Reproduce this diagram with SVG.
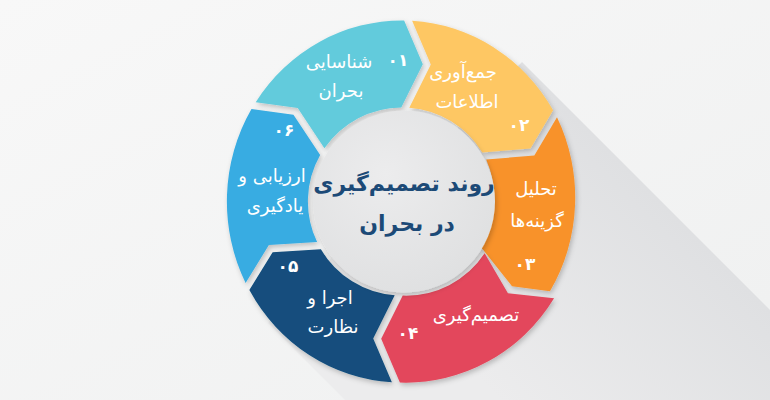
<svg xmlns="http://www.w3.org/2000/svg" width="770" height="400" viewBox="0 0 770 400">
<defs>
<linearGradient id="bg" x1="0" y1="0" x2="1" y2="1">
<stop offset="0" stop-color="#f8f8f8"/>
<stop offset="1" stop-color="#eff0f0"/>
</linearGradient>
<linearGradient id="longShadow" x1="660" y1="200" x2="480" y2="380" gradientUnits="userSpaceOnUse">
<stop offset="0" stop-color="#dfe0e2"/>
<stop offset="1" stop-color="#ececed"/>
</linearGradient>
<radialGradient id="hub" cx="0.4" cy="0.35" r="0.75">
<stop offset="0" stop-color="#ececed"/>
<stop offset="1" stop-color="#dedfe0"/>
</radialGradient>
<filter id="ds" x="-20%" y="-20%" width="140%" height="140%">
<feDropShadow dx="1.5" dy="2.5" stdDeviation="2.5" flood-color="#000" flood-opacity="0.22"/>
</filter>
</defs>
<style>
.lbl{font-family:"DejaVu Sans",sans-serif;font-size:18px;fill:#ffffff;text-anchor:middle}
.num{font-family:"DejaVu Sans",sans-serif;font-size:17px;font-weight:bold;fill:#ffffff;text-anchor:middle}
.ttl{font-family:"DejaVu Sans",sans-serif;font-size:22px;font-weight:bold;fill:#1c4a77;text-anchor:middle}
.seg{filter:url(#ds)}
</style>
<rect x="0" y="0" width="770" height="400" fill="url(#bg)"/>
<path d="M 522,62 L 770,310 L 770,400 L 345,400 L 268,323 Z" fill="url(#longShadow)"/>
<g id="connectors"></g>
<g id="step-01">
<path class="seg" fill="#62cbdc" d="M 255.71,102.20 A 175 181 0 0 1 404.11,20.47 L 422.81,64.14 L 401.28,107.42 A 94 94 0 0 0 324.40,148.30 L 297.69,108.02 Z"/>
<text class="num" x="398" y="66">۰۱</text>
<text class="lbl"><tspan x="339" y="68">شناسایی</tspan><tspan x="341" y="97">بحران</tspan></text>
</g>
<g id="step-02">
<path class="seg" fill="#fec764" d="M 412.11,20.75 A 175 181 0 0 1 553.12,110.25 L 530.46,148.59 L 482.27,152.43 A 94 94 0 0 0 409.28,107.70 L 430.81,64.42 Z"/>
<text class="lbl"><tspan x="463" y="78">جمع&#x200C;آوری</tspan><tspan x="467" y="108">اطلاعات</tspan></text>
<text class="num" x="519" y="131">۰۲</text>
</g>
<g id="step-03">
<path class="seg" fill="#f8922a" d="M 557.00,117.25 A 175 181 0 0 1 549.94,291.29 L 512.05,286.30 L 480.51,246.48 A 94 94 0 0 0 486.15,159.43 L 534.34,155.59 Z"/>
<text class="lbl"><tspan x="536" y="195">تحلیل</tspan><tspan x="537" y="227">گزینه&#x200C;ها</tspan></text>
<text class="num" x="525" y="270">۰۳</text>
</g>
<g id="step-04">
<path class="seg" fill="#e3475b" d="M 554.06,298.15 A 175 181 0 0 1 399.89,382.53 L 381.19,338.86 L 402.72,295.58 A 94 94 0 0 0 484.63,253.34 L 507.93,293.15 Z"/>
<text class="lbl" x="476" y="321">تصمیم&#x200C;گیری</text>
<text class="num" x="408" y="339">۰۴</text>
</g>
<g id="step-05">
<path class="seg" fill="#124e7d" d="M 391.89,382.25 A 175 181 0 0 1 249.36,290.00 L 272.64,252.16 L 320.88,249.16 A 94 94 0 0 0 394.72,295.30 L 373.19,338.58 Z"/>
<text class="num" x="288" y="272">۰۵</text>
<text class="lbl"><tspan x="330" y="304">اجرا و</tspan><tspan x="333" y="333">نظارت</tspan></text>
</g>
<g id="step-06">
<path class="seg" fill="#37ace2" d="M 245.60,282.94 A 175 181 0 0 1 251.47,108.98 L 293.45,114.80 L 320.16,155.08 A 94 94 0 0 0 317.12,242.10 L 268.88,245.10 Z"/>
<text class="num" x="284" y="136">۰۶</text>
<text class="lbl"><tspan x="272" y="182">ارزیابی و</tspan><tspan x="275" y="212">یادگیری</tspan></text>
</g>
<g id="center">
<circle cx="404" cy="201.5" r="91" fill="url(#hub)" filter="url(#ds)"/>
<text class="ttl"><tspan x="404" y="191">روند تصمیم&#x200C;گیری</tspan><tspan x="407" y="231">در بحران</tspan></text>
</g>
</svg>
